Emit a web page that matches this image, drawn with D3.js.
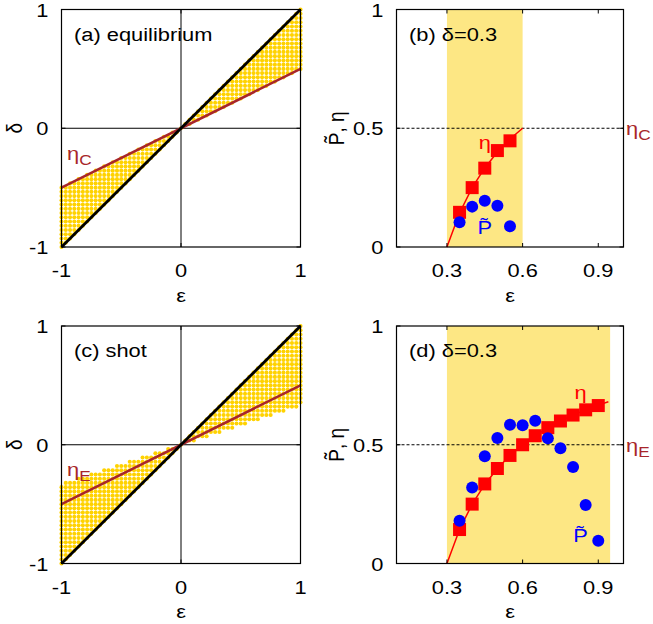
<!DOCTYPE html>
<html><head><meta charset="utf-8">
<script src="https://cdn.jsdelivr.net/npm/d3@7"></script>
<style>body{margin:0;background:#fff}svg{font-family:"Liberation Sans",Arial,sans-serif}</style>
</head><body><svg id="c" width="653" height="624"></svg>
<script>
// ---- data ----
const diagTicks = [-1, 0, 1];
const diagTickLabels = ["-1", "0", "1"];
const effTicksX = [0.3, 0.6, 0.9];
const effTickLabelsX = ["0.3", "0.6", "0.9"];
const effTicksY = [0, 0.5, 1];
const effTickLabelsY = ["0", "0.5", "1"];
const diagLine = [[-1, -1], [1, 1]];
const etaCLine = [[-1, -0.5], [1, 0.5]];
const etaELine = [[-1, -0.5], [1, 0.5]];
// outer edge of the dotted region
const regionA_edge = [[-1, -0.5], [1, 0.5]];
const regionC_edge = [[-1, -0.333], [1, 0.333]];
const bandB = [0.3, 0.6];
const bandD = [0.3, 0.947];
// panel (b)
const epsB = [0.35, 0.40, 0.45, 0.50, 0.55];
const etaB = [0.146, 0.25, 0.332, 0.406, 0.447];
const powB = [0.104, 0.17, 0.195, 0.174, 0.087];
const lineB_eps = [0.3, 0.35, 0.4, 0.45, 0.5, 0.55, 0.6];
const lineB_eta = [0, 0.143, 0.25, 0.333, 0.4, 0.455, 0.5];
// panel (d)
const epsD = [0.35, 0.40, 0.45, 0.50, 0.55, 0.60, 0.65, 0.70, 0.75, 0.80, 0.85, 0.90];
const etaD = [0.143, 0.25, 0.335, 0.40, 0.455, 0.50, 0.538, 0.572, 0.60, 0.625, 0.647, 0.665];
const powD = [0.18, 0.32, 0.452, 0.528, 0.584, 0.582, 0.601, 0.527, 0.485, 0.406, 0.246, 0.096];
const lineD_eps = [0.3, 0.35, 0.4, 0.45, 0.5, 0.55, 0.6, 0.65, 0.7, 0.75, 0.8, 0.85, 0.9, 0.94];
const lineD_eta = [0, 0.143, 0.25, 0.333, 0.4, 0.455, 0.5, 0.538, 0.571, 0.6, 0.625, 0.647, 0.667, 0.681];
const etaRef = 0.5;

const svg = d3.select("#c");
const FS = 19, SX = 1.15;
const darkRed = "#a8262a";
const gold = "#ffd200";
const band = "#fde784";

// text stretched horizontally like the reference
function txt(g, x, y, s, o = {}) {
  const t = g.append("text")
    .attr("transform", `translate(${x},${y})${o.rot ? " rotate(-90)" : ""} scale(${o.rot ? "1," + SX : SX + ",1"})`)
    .attr("font-size", o.fs || FS).attr("fill", o.fill || "#000")
    .attr("text-anchor", o.anchor || "start");
  if (s !== null) t.text(s);
  return t;
}

function frame(g, x, y) {
  const [x0, x1] = x.range(), [y0, y1] = y.range();
  g.append("rect").attr("x", x0).attr("y", y1).attr("width", x1 - x0).attr("height", y0 - y1)
    .attr("fill", "none").attr("stroke", "#000").attr("stroke-width", 1.2);
}
function ticks(g, x, y, xt, yt, xl, yl) {
  const [x0, x1] = x.range(), [y0, y1] = y.range();
  const L = 4;
  xt.forEach((t, i) => {
    const px = x(t);
    g.append("line").attr("x1", px).attr("x2", px).attr("y1", y0).attr("y2", y0 - L).attr("stroke", "#000");
    g.append("line").attr("x1", px).attr("x2", px).attr("y1", y1).attr("y2", y1 + L).attr("stroke", "#000");
    txt(g, px, y0 + 30, xl[i], { anchor: "middle" });
  });
  yt.forEach((t, i) => {
    const py = y(t);
    g.append("line").attr("x1", x0).attr("x2", x0 + L).attr("y1", py).attr("y2", py).attr("stroke", "#000");
    g.append("line").attr("x1", x1).attr("x2", x1 - L).attr("y1", py).attr("y2", py).attr("stroke", "#000");
    txt(g, x0 - 13, py + 7, yl[i], { anchor: "end" });
  });
}

function diagPanel(top, edge, title, refLine, sub) {
  const x = d3.scaleLinear().domain([-1, 1]).range([61.5, 300.5]);
  const y = d3.scaleLinear().domain([-1, 1]).range([top + 237.5, top]);
  const g = svg.append("g");
  const slope = (edge[1][1] - edge[0][1]) / (edge[1][0] - edge[0][0]);
  const step = 2 / 56, tol = 0.006;
  const grid = d3.range(57).map(i => -1 + i * step);
  const pts = [];
  grid.forEach(e => grid.forEach(d => {
    const lo = Math.min(e, slope * e), hi = Math.max(e, slope * e);
    if (d >= lo - tol && d <= hi + tol) pts.push([e, d]);
  }));
  g.selectAll(null).data(pts).join("circle").attr("cx", d => x(d[0])).attr("cy", d => y(d[1]))
    .attr("r", 2.05).attr("fill", gold);
  g.append("line").attr("x1", x(0)).attr("x2", x(0)).attr("y1", y(-1)).attr("y2", y(1)).attr("stroke", "#000").attr("stroke-width", 1);
  g.append("line").attr("x1", x(-1)).attr("x2", x(1)).attr("y1", y(0)).attr("y2", y(0)).attr("stroke", "#000").attr("stroke-width", 1);
  const line = d3.line().x(d => x(d[0])).y(d => y(d[1]));
  g.append("path").attr("d", line(refLine)).attr("stroke", darkRed).attr("stroke-width", 2.5).attr("fill", "none");
  g.append("path").attr("d", line(diagLine)).attr("stroke", "#000").attr("stroke-width", 2.8).attr("fill", "none");
  frame(g, x, y);
  ticks(g, x, y, diagTicks, diagTicks, diagTickLabels, diagTickLabels);
  txt(g, 74, top + 31, title);
  txt(g, x(0), top + 292, "ε", { anchor: "middle" });
  txt(g, 22, y(0), "δ", { anchor: "middle", rot: true });
  const t = txt(g, 67, y(-0.265), null, { fill: darkRed });
  t.append("tspan").text("η");
  t.append("tspan").attr("font-size", 15).attr("dy", 5).text(sub);
}

function effPanel(top, bandR, eps, eta, pow, lineE, lineH, title, sub, etaLbl, pLbl) {
  const x = d3.scaleLinear().domain([0.1, 1.0]).range([396.5, 623.5]);
  const y = d3.scaleLinear().domain([0, 1]).range([top + 237.5, top]);
  const g = svg.append("g");
  g.append("rect").attr("x", x(bandR[0])).attr("y", y(1)).attr("width", x(bandR[1]) - x(bandR[0]))
    .attr("height", y(0) - y(1)).attr("fill", band);
  g.append("line").attr("x1", x(0.1)).attr("x2", x(1)).attr("y1", y(etaRef)).attr("y2", y(etaRef))
    .attr("stroke", "#000").attr("stroke-width", 1).attr("stroke-dasharray", "3,2");
  const line = d3.line().x((d, i) => x(lineE[i])).y(d => y(d));
  g.append("path").attr("d", line(lineH)).attr("stroke", "#f00").attr("stroke-width", 1.5).attr("fill", "none");
  g.selectAll(null).data(eps).join("rect").attr("x", (d) => x(d) - 6.5).attr("y", (d, i) => y(eta[i]) - 6.5)
    .attr("width", 13).attr("height", 13).attr("fill", "#f00");
  g.selectAll(null).data(eps).join("circle").attr("cx", d => x(d)).attr("cy", (d, i) => y(pow[i]))
    .attr("r", 6).attr("fill", "#00f");
  frame(g, x, y);
  ticks(g, x, y, effTicksX, effTicksY, effTickLabelsX, effTickLabelsY);
  txt(g, 409, top + 31, title);
  txt(g, x(0.55), top + 292, "ε", { anchor: "middle" });
  txt(g, 344, y(0.5), "P̃, η", { anchor: "middle", rot: true });
  const t = txt(g, 626, y(0.5) + 7, null, { fill: darkRed });
  t.append("tspan").text("η");
  t.append("tspan").attr("font-size", 15).attr("dy", 5).text(sub);
  txt(g, x(etaLbl[0]), y(etaLbl[1]) + 6, "η", { anchor: "middle", fill: "#f00" });
  txt(g, x(pLbl[0]), y(pLbl[1]) + 7, "P̃", { anchor: "middle", fill: "#00f" });
}

diagPanel(9.5, regionA_edge, "(a) equilibrium", etaCLine, "C");
diagPanel(326, regionC_edge, "(c) shot", etaELine, "E");
effPanel(9.5, bandB, epsB, etaB, powB, lineB_eps, lineB_eta, "(b) δ=0.3", "C", [0.45, 0.44], [0.45, 0.085]);
effPanel(326, bandD, epsD, etaD, powD, lineD_eps, lineD_eta, "(d) δ=0.3", "E", [0.83, 0.72], [0.83, 0.12]);
</script></body></html>
